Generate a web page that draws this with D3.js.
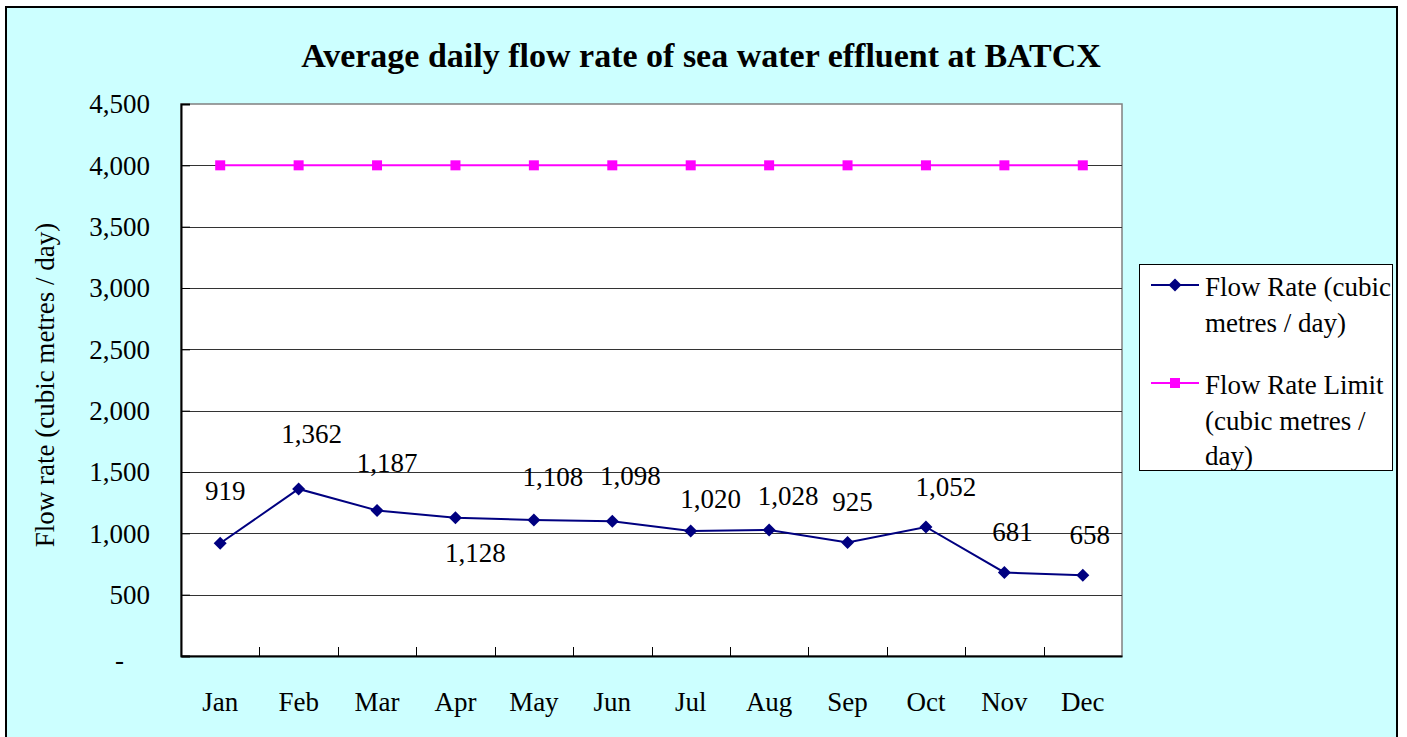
<!DOCTYPE html>
<html>
<head>
<meta charset="utf-8">
<script src="https://cdn.jsdelivr.net/npm/d3@7"></script>
<style>
  html, body { margin: 0; padding: 0; background: #ffffff; }
  svg { display: block; }
</style>
</head>
<body>
<svg id="chart" width="1407" height="737"></svg>
<script>
// ---- data ----
const months = ["Jan","Feb","Mar","Apr","May","Jun","Jul","Aug","Sep","Oct","Nov","Dec"];
const flowRate = [919, 1362, 1187, 1128, 1108, 1098, 1020, 1028, 925, 1052, 681, 658];
const flowLimit = [4000, 4000, 4000, 4000, 4000, 4000, 4000, 4000, 4000, 4000, 4000, 4000];
const yTicks = [0, 500, 1000, 1500, 2000, 2500, 3000, 3500, 4000, 4500];
const titleText = "Average daily flow rate of sea water effluent at BATCX";
const yTitle = "Flow rate (cubic metres / day)";
const legendFlow = ["Flow Rate (cubic", "metres / day)"];
const legendLimit = ["Flow Rate Limit", "(cubic metres /", "day)"];
// label placement offsets (px) relative to each point
const labelDx = [5, 13, 10, 20, 19, 18, 20, 19, 5, 20, 8, 7];
const labelDy = [-53, -55, -48, 35, -44, -46, -32, -34, -41, -40, -41, -41];

// ---- layout ----
const FONT = '"Liberation Serif", "Times New Roman", serif';
const svg = d3.select("#chart");
const plot = { left: 181, top: 104, right: 1122, bottom: 656 };
const fontSize = 27;

// chart area background + border
svg.append("rect").attr("x", 6).attr("y", 7).attr("width", 1391).attr("height", 760)
  .attr("fill", "#CCFFFF").attr("stroke", "#000").attr("stroke-width", 2);

const x = d3.scaleBand().domain(months).range([plot.left, plot.right]).padding(0);
const y = d3.scaleLinear().domain([0, 4500]).range([plot.bottom, plot.top]);

// plot area
svg.append("rect").attr("x", plot.left).attr("y", plot.top)
  .attr("width", plot.right - plot.left).attr("height", plot.bottom - plot.top)
  .attr("fill", "#fff").attr("stroke", "#808080").attr("stroke-width", 1.5);

// gridlines
svg.append("g").selectAll("line").data(yTicks.filter(d => d > 0 && d < 4500)).join("line")
  .attr("x1", plot.left).attr("x2", plot.right)
  .attr("y1", d => Math.round(y(d)) + 0.5).attr("y2", d => Math.round(y(d)) + 0.5)
  .attr("stroke", "#333").attr("stroke-width", 1);

// y axis
const yAxis = d3.axisLeft(y).tickValues(yTicks).tickSize(-9).tickPadding(31)
  .tickFormat(d => d === 0 ? "-" : d3.format(",")(d));
const gy = svg.append("g").attr("transform", `translate(${plot.left},0)`).call(yAxis);
gy.select(".domain").attr("stroke", "#000").attr("stroke-width", 2);
gy.selectAll(".tick line").attr("stroke", "#000");
gy.selectAll(".tick text").style("font-family", FONT).style("font-size", fontSize + "px")
  .attr("fill", "#000")
  .attr("dx", d => d === 0 ? -26 : 0)
  .attr("dy", d => d === 0 ? "0.45em" : "0.33em");

// x axis
const gx = svg.append("g").attr("transform", `translate(0,${plot.bottom})`)
  .call(d3.axisBottom(x).tickSize(0).tickPadding(0));
gx.select(".domain").attr("stroke", "#000").attr("stroke-width", 2);
gx.selectAll(".tick text").style("font-family", FONT).style("font-size", fontSize + "px")
  .attr("fill", "#000").attr("y", 46).attr("dy", "0.35em");
// x tick marks at category boundaries (inside)
svg.append("g").selectAll("line").data(months.slice(1)).join("line")
  .attr("x1", d => Math.round(x(d)) + 0.5).attr("x2", d => Math.round(x(d)) + 0.5)
  .attr("y1", plot.bottom - 9).attr("y2", plot.bottom)
  .attr("stroke", "#000").attr("stroke-width", 1);

const cx = (d, i) => x(months[i]) + x.bandwidth() / 2;
const line = d3.line().x((d, i) => cx(d, i)).y(d => y(d));

const diamond = s => `M0,${-s}L${s},0L0,${s}L${-s},0Z`;

// limit series
svg.append("path").datum(flowLimit).attr("d", line)
  .attr("fill", "none").attr("stroke", "#FF00FF").attr("stroke-width", 2);
svg.append("g").selectAll("rect").data(flowLimit).join("rect")
  .attr("x", (d, i) => cx(d, i) - 5).attr("y", d => y(d) - 5)
  .attr("width", 10).attr("height", 10).attr("fill", "#FF00FF");

// flow series
svg.append("path").datum(flowRate).attr("d", line)
  .attr("fill", "none").attr("stroke", "#000080").attr("stroke-width", 2);
svg.append("g").selectAll("path").data(flowRate).join("path")
  .attr("transform", (d, i) => `translate(${cx(d, i)},${y(d)})`)
  .attr("d", diamond(6.5)).attr("fill", "#000080");

// data labels
svg.append("g").selectAll("text").data(flowRate).join("text")
  .attr("x", (d, i) => cx(d, i) + labelDx[i])
  .attr("y", (d, i) => y(d) + labelDy[i])
  .attr("dy", "0.35em").attr("text-anchor", "middle")
  .style("font-family", FONT).style("font-size", fontSize + "px")
  .text(d => d3.format(",")(d));

// title
svg.append("text").attr("x", 701).attr("y", 67).attr("text-anchor", "middle")
  .style("font-family", FONT).style("font-size", "34px").style("font-weight", "bold")
  .text(titleText);

// y axis title
svg.append("text").attr("transform", "translate(45,385) rotate(-90)")
  .attr("text-anchor", "middle").attr("dy", "0.35em")
  .style("font-family", FONT).style("font-size", fontSize + "px")
  .text(yTitle);

// legend
const lg = svg.append("g");
lg.append("rect").attr("x", 1139.5).attr("y", 264.5).attr("width", 253).attr("height", 206)
  .attr("fill", "#fff").attr("stroke", "#000").attr("stroke-width", 1);
const legendItems = [
  { color: "#000080", marker: "diamond", y: 285, lines: legendFlow },
  { color: "#FF00FF", marker: "square", y: 383, lines: legendLimit }
];
legendItems.forEach(item => {
  lg.append("line").attr("x1", 1151).attr("x2", 1199).attr("y1", item.y).attr("y2", item.y)
    .attr("stroke", item.color).attr("stroke-width", 2);
  if (item.marker === "diamond") {
    lg.append("path").attr("transform", `translate(1175,${item.y})`).attr("d", diamond(6.5))
      .attr("fill", item.color);
  } else {
    lg.append("rect").attr("x", 1170).attr("y", item.y - 5).attr("width", 10).attr("height", 10)
      .attr("fill", item.color);
  }
  item.lines.forEach((t, k) => {
    lg.append("text").attr("x", 1205).attr("y", item.y + 2 + k * 35.5).attr("dy", "0.35em")
      .style("font-family", FONT).style("font-size", fontSize + "px").text(t);
  });
});
</script>
</body>
</html>
